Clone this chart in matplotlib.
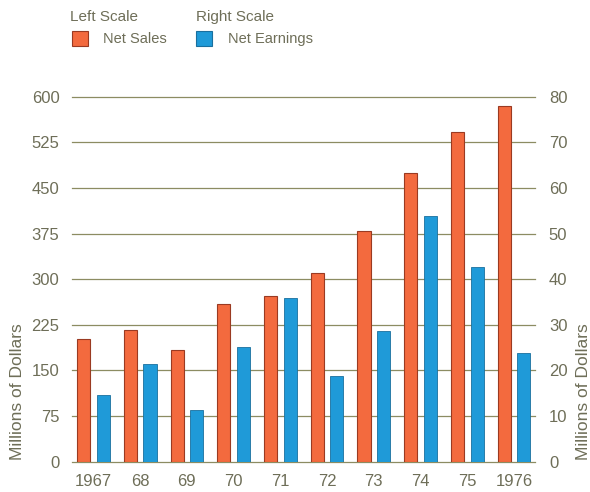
import numpy as np
import matplotlib
matplotlib.use('Agg')
import matplotlib.pyplot as plt
from matplotlib.patches import Rectangle

plt.rcParams['font.family'] = ['Liberation Sans', 'DejaVu Sans']

# data
years = ['1967', '68', '69', '70', '71', '72', '73', '74', '75', '1976']
net_sales = [201, 216, 183, 260, 272, 310, 379, 475, 542, 585]      # left scale
net_earnings = [14.6, 21.4, 11.3, 25.1, 35.8, 18.8, 28.6, 53.9, 42.7, 23.9]  # right scale
left_ticks = [0, 75, 150, 225, 300, 375, 450, 525, 600]
right_ticks = [0, 10, 20, 30, 40, 50, 60, 70, 80]

orange = '#f36a3e'
blue = '#1f9ad8'
txt = '#6e6e58'
grid_c = '#8c8c62'

fig = plt.figure(figsize=(5.9, 4.92), dpi=100)
ax = fig.add_axes([72/590, 1 - 461.7/492, (535-72)/590, 365/492])
ax2 = ax.twinx()

x = np.arange(len(years))
w = 0.28
ax.bar(x - 0.21, net_sales, width=w, color=orange, edgecolor='#9a3a22', linewidth=0.8, zorder=3)
ax2.bar(x + 0.21, net_earnings, width=w, color=blue, edgecolor='#1a6f9e', linewidth=0.6, zorder=3)

ax.set_xlim(-0.46, 9.45)
ax.set_ylim(0, 600)
ax2.set_ylim(0, 80)

for t in left_ticks:
    ax.axhline(t, color=grid_c, linewidth=0.9, zorder=1, clip_on=False)

for a in (ax, ax2):
    for s in a.spines.values():
        s.set_visible(False)
    a.tick_params(length=0, colors=txt, labelsize=12)

ax.set_yticks(left_ticks)
ax.set_yticklabels([str(t) for t in left_ticks])
ax.tick_params(axis='y', pad=9)
ax2.set_yticks(right_ticks)
ax2.set_yticklabels([str(t) for t in right_ticks])
ax2.tick_params(axis='y', pad=10)
ax.set_xticks(x)
ax.set_xticklabels(years)
ax.tick_params(axis='x', pad=9)

fig.text(18/590, 1 - 392/492, 'Millions of Dollars', rotation=90, ha='center', va='center',
         color=txt, fontsize=12.5)
fig.text(584/590, 1 - 392/492, 'Millions of Dollars', rotation=90, ha='center', va='center',
         color=txt, fontsize=12.5)

# legend
fig.text(70/590, 1 - 17/492, 'Left Scale', color=txt, fontsize=11, va='center')
fig.text(196/590, 1 - 17/492, 'Right Scale', color=txt, fontsize=11, va='center')
fig.patches.append(Rectangle((72/590, 1 - 46/492), 16/590, 15/492, transform=fig.transFigure,
                             facecolor=orange, edgecolor='#9a3a22', linewidth=0.8))
fig.patches.append(Rectangle((196/590, 1 - 46/492), 16/590, 15/492, transform=fig.transFigure,
                             facecolor=blue, edgecolor='#1a6f9e', linewidth=0.8))
fig.text(103/590, 1 - 39/492, 'Net Sales', color=txt, fontsize=10.5, va='center')
fig.text(228/590, 1 - 39/492, 'Net Earnings', color=txt, fontsize=10.5, va='center')

fig.savefig('out.png', dpi=100, facecolor='white')
